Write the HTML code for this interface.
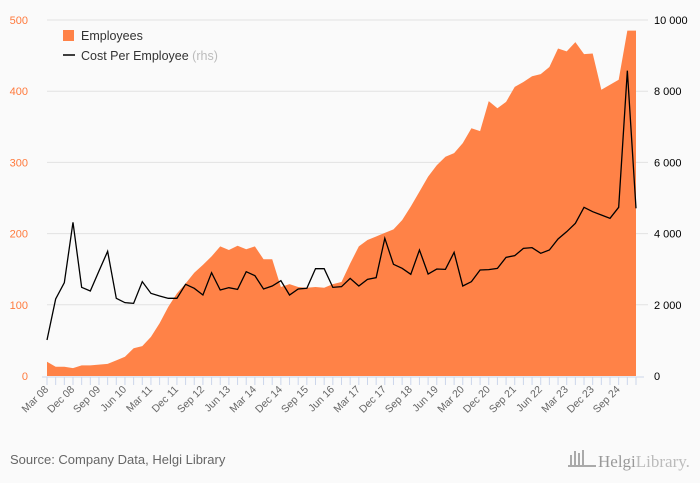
<!DOCTYPE html>
<html><head><meta charset="utf-8"><style>
body{margin:0;background:#fafafa;font-family:"Liberation Sans","DejaVu Sans",sans-serif;}
svg{display:block}
</style></head><body>
<svg id="chart" width="700" height="483">
<rect width="700" height="483" fill="#fafafa"/>
<g id="grid"></g>
<g id="area"></g>
<g id="line"></g>
<g id="axes"></g>
<g>
<rect x="63" y="30" width="11" height="11" fill="#ff8247"/>
<text x="81" y="40" font-size="12.5" fill="#333">Employees</text>
<line x1="63" y1="55" x2="75" y2="55" stroke="#000" stroke-width="1.5"/>
<text x="81" y="60" font-size="12.5" fill="#333">Cost Per Employee <tspan fill="#bbb">(rhs)</tspan></text>
</g>
<text x="10" y="464" font-size="13" fill="#666">Source: Company Data, Helgi Library</text>
<g>
<rect x="570" y="455" width="2" height="10" fill="#aaa"/><rect x="574" y="451" width="2" height="14" fill="#aaa"/><rect x="578" y="453" width="2" height="12" fill="#aaa"/><rect x="582" y="450" width="2" height="15" fill="#aaa"/><rect x="568" y="465" width="28" height="2" fill="#aaa"/>
<text x="598" y="467" font-family="Liberation Serif,serif" font-size="17" fill="#999">Helgi<tspan fill="#bbb">Library.</tspan></text>
</g>
</svg>
<script>
const labels=["Mar 08","Dec 08","Sep 09","Jun 10","Mar 11","Dec 11","Sep 12","Jun 13","Mar 14","Dec 14","Sep 15","Jun 16","Mar 17","Dec 17","Sep 18","Jun 19","Mar 20","Dec 20","Sep 21","Jun 22","Mar 23","Dec 23","Sep 24"];
const employees=[20,13,13,11,15,15,16,17,22,27,39,42,55,74,97,116,130,145,156,168,182,177,183,178,182,164,164,125,129,125,124,125,124,129,132,158,182,191,196,201,206,219,238,259,280,296,308,313,327,348,344,386,376,385,406,413,421,424,434,460,456,469,452,453,402,409,416,485,485];
const cost=[1011,2163,2620,4317,2490,2387,2950,3502,2182,2060,2041,2650,2322,2247,2182,2182,2575,2463,2275,2902,2416,2481,2434,2930,2818,2444,2528,2678,2275,2444,2463,3015,3015,2490,2509,2743,2528,2715,2762,3867,3137,3024,2856,3539,2865,3005,2996,3473,2528,2650,2977,2987,3024,3333,3380,3586,3605,3446,3539,3848,4054,4289,4738,4616,4522,4429,4738,8577,4710];
const leftTicks=[0,100,200,300,400,500];
const rightTicks=["0","2 000","4 000","6 000","8 000","10 000"];
const X0=47,X1=636,Y0=376,Y1=20,N=cost.length;
const x=i=>X0+(X1-X0)*i/(N-1);
const yL=v=>Y0-(Y0-Y1)*v/500;
const yR=v=>Y0-(Y0-Y1)*v/10000;
const NS="http://www.w3.org/2000/svg";
function mk(t,a,p){const e=document.createElementNS(NS,t);for(const k in a)e.setAttribute(k,a[k]);p.appendChild(e);return e;}
const grid=document.getElementById('grid'),axes=document.getElementById('axes');
leftTicks.forEach((v,i)=>{
 const yy=yL(v);
 if(i>0){const g=mk('line',{x1:X0,x2:X1+12,y1:yy,y2:yy,stroke:'#e2e2e2'},grid);
 
 }
 const t=mk('text',{x:28,y:yy+4,'font-size':11,fill:'#ff7a3d','text-anchor':'end'},axes);t.textContent=v;
 
 
 const r=mk('text',{x:654,y:yy+4,'font-size':11,fill:'#000'},axes);r.textContent=rightTicks[i];
 
 
});
let d=`M${x(0)},${Y0}`;employees.forEach((v,i)=>d+=`L${x(i)},${yL(v)}`);d+=`L${x(employees.length-1)},${Y0}Z`;
const ar=mk('path',{d:d,fill:'#ff8247'},document.getElementById('area'));


const ln=mk('polyline',{points:cost.map((v,i)=>x(i)+','+yR(v)).join(' '),fill:'none',stroke:'#000','stroke-width':1.3},document.getElementById('line'));


const ax=mk('line',{x1:X0-5,x2:X1+8,y1:Y0+1,y2:Y0+1,stroke:'#ccd6eb'},axes);


for(let i=0;i<N;i++){const tk=mk('line',{x1:x(i),x2:x(i),y1:Y0+1,y2:Y0+9,stroke:'#ccd6eb'},axes);
 
 }
labels.forEach((l,j)=>{const xx=x(j*3)-1;
 const t=mk('text',{x:xx+3,y:Y0+14,'font-size':10.5,fill:'#666','text-anchor':'end',transform:`rotate(-45 ${xx+3} ${Y0+14})`},axes);t.textContent=l;
 
 
});
</script>
</body></html>
